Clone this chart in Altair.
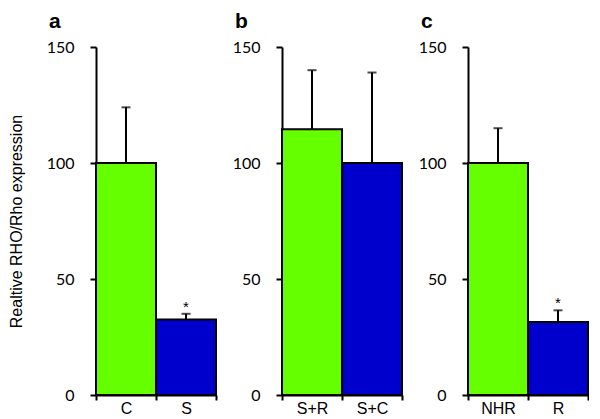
import altair as alt
import pandas as pd

# Panel a
cats_a = ["C", "S"]
vals_a = [100, 32.5]
upper_a = [124, 35]
stars_a = ["", "*"]

# Panel b
cats_b = ["S+R", "S+C"]
vals_b = [114.5, 100]
upper_b = [140, 139]
stars_b = ["", ""]

# Panel c
cats_c = ["NHR", "R"]
vals_c = [100, 31.5]
upper_c = [115, 36.5]
stars_c = ["", "*"]

bar_colors = ["#66FF00", "#0000CC"]
y_ticks = [0, 50, 100, 150]


def panel(letter, cats, vals, upper, stars, ytitle):
    df = pd.DataFrame({"cat": cats, "val": vals, "upper": upper,
                       "star": stars, "col": bar_colors})
    base = alt.Chart(df)
    x = alt.X("cat:N", sort=cats,
              scale=alt.Scale(paddingInner=0, paddingOuter=0),
              axis=alt.Axis(title=None, labelAngle=0, tickBand="extent",
                            tickSize=5, labelPadding=0, labelFont="Arial",
                            labelFontSize=16))
    yscale = alt.Scale(domain=[0, 150], nice=False)
    yaxis = alt.Axis(values=y_ticks, title=ytitle, tickSize=6, labelPadding=16,
                     labelFont="Lato", labelFontSize=16, titleFont="Arial",
                     titleFontSize=16, titleFontWeight="normal", titlePadding=22)
    bars = base.mark_bar(stroke="black", strokeWidth=2).encode(
        x=x,
        y=alt.Y("val:Q", scale=yscale, axis=yaxis),
        color=alt.Color("col:N", scale=None),
    )
    rule = base.mark_rule(color="black", strokeWidth=2).encode(
        x=x,
        y=alt.Y("val:Q", scale=yscale, axis=yaxis),
        y2="upper:Q",
    )
    cap = base.mark_tick(color="black", thickness=2, size=9,
                         orient="horizontal").encode(
        x=x,
        y=alt.Y("upper:Q", scale=yscale, axis=yaxis),
    )
    star = base.mark_text(dy=-7, fontSize=15, font="Arial", color="black").encode(
        x=x,
        y=alt.Y("upper:Q", scale=yscale, axis=yaxis),
        text="star:N",
    )
    return alt.layer(bars, rule, cap, star).properties(
        width=120, height=348,
        title=alt.TitleParams(letter, anchor="start", frame="group", dx=-47,
                              fontSize=21, fontWeight="bold", font="Arial",
                              offset=7, color="black"),
    )


chart = alt.hconcat(
    panel("a", cats_a, vals_a, upper_a, stars_a, "Realtive RHO/Rho expression"),
    panel("b", cats_b, vals_b, upper_b, stars_b, None),
    panel("c", cats_c, vals_c, upper_c, stars_c, None),
    spacing=15,
    padding={"left": 0, "top": 3, "right": 0, "bottom": 0},
).configure_view(stroke=None).configure_axis(
    domainColor="black", domainWidth=2, tickColor="black", tickWidth=2,
    labelColor="black", titleColor="black", grid=False,
)

chart.save("out.html", embed_options={"renderer": "svg", "actions": False})
